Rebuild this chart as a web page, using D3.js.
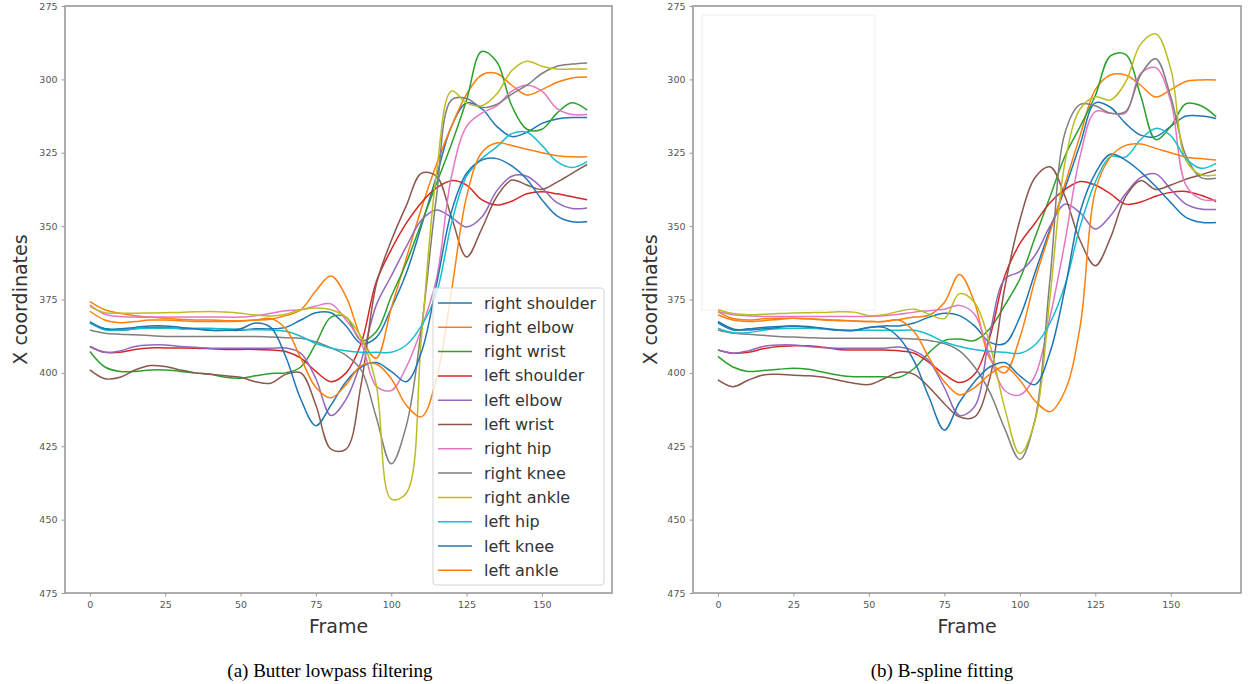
<!DOCTYPE html>
<html>
<head>
<meta charset="utf-8">
<script src="https://cdn.jsdelivr.net/npm/d3@7"></script>
<style>
  body { margin: 0; background: #fff; }
  svg { display: block; }
</style>
</head>
<body>
<div id="chart"></div>
<script>
// frames sampled every 5
const frames = [0,5,10,15,20,25,30,35,40,45,50,55,60,65,70,75,80,85,90,95,100,105,110,115,120,125,130,135,140,145,150,155,160,165];

const jointNames = ["right shoulder","right elbow","right wrist","left shoulder","left elbow","left wrist",
                    "right hip","right knee","right ankle","left hip","left knee","left ankle"];
const jointColors = ["#1f77b4","#ff7f0e","#2ca02c","#d62728","#9467bd","#8c564b",
                     "#e377c2","#7f7f7f","#bcbd22","#17becf","#1f77b4","#ff7f0e"];

const xTicks = [0,25,50,75,100,125,150];
const yTicks = [275,300,325,350,375,400,425,450,475];

// (a) Butter lowpass filtering
const aRShoulder = [383,385,385.5,385,384.5,384.5,385,385,385.5,385.5,385.5,385,385,384.5,382,379.5,379.5,384,390,388,378,366,350,333,316,308,310,316,319.5,318,315,313.5,313,313];
const aRElbow = [375.7,378.5,379.7,380.5,381,381.4,381.7,382,382,382.2,382.2,382,381.7,380.5,378.5,372,367,374,388,395,378,361,344,329,316,305,298.5,298,302,305.3,303.5,301,299.5,299.2];
const aRWrist = [392.7,398,399.5,399.5,399,399,399.5,400,400.5,401.5,401.8,401,400.2,400,398,390,381,381,389,386,374,362.5,349,335.5,322,307,290.5,294,309,317,317,311.5,308,310.5];
const aLShoulder = [391,393,393,392,391.5,391.5,391.5,391.6,391.8,392,392,392,392.2,392.7,395,399.5,403,400,390,369,358,349,342,337,334.5,336,341,342.8,341.5,339,338.3,339,340,341];
const aLElbow = [391,393,392.5,391,390.5,390.5,391,391.3,391.6,391.6,391.6,391.6,391.6,391.5,393.3,402,414.5,409,396,377,367,357,348,344.5,347,350.3,347,338,333,333,337,342,344,343.8];
const aLWrist = [399,402,401.5,399,397.5,397.8,399,400,400.5,401,401.5,403,403.5,400.5,400,411,426,426,404,370,355,343,332,333,347,360.5,351,340,334.3,336,337.5,335,332,329];
const aRHip = [376.8,380,380.8,381,381,381,381,381,381,381,381,380.5,379.7,378.8,378.5,377.2,376.5,382,389.5,404.5,406,398,385,368,333,316,311.5,309,304,302,304,310,312,312];
const aRKnee = [385.4,386.5,386.8,387,387.3,387.6,387.6,387.6,387.6,387.6,387.6,387.6,387.8,388,388.2,389.5,391.5,394,399,415,431,418,385,340,307,306.5,309.5,308.5,305,302,298,295.5,294.8,294.4];
const aRAnkle = [377.4,379.5,379.7,379.7,379.6,379.5,379.4,379.2,379.1,379.3,379.7,380.3,380.6,380,378.5,377.9,378.5,381,388,404,443,441,388,332,304,308,309,305,297,293.8,295.5,296.5,296.5,296.5];
const aLHip = [383,385.4,385.4,385,384.8,384.8,384.8,384.8,384.8,385,385.2,385.3,385.4,385.8,387.5,390,391.5,392.5,393,393,393,390.5,384,373,349,333,327,323,318.5,318,322.5,328,330,328];
const aLKnee = [382.5,385,385,384.5,384,384,384.5,385,385.5,385.5,385,383,384.5,394.5,409,418,411,403,398,396.5,399.5,403,393,370,345,332,327.5,327,329.5,334,341,346.5,348.5,348.5];
const aLAnkle = [379,382,382.9,382.5,382,382,382.2,382.5,382.5,382.5,382.4,382,381.5,385,395,405,408.5,404,397.5,397,402,411,415,402,372,340,325,321.7,322.5,323.8,325,326,326.4,326.4];

// (b) B-spline fitting
const bRShoulder = [383,385.4,385,384.5,384.2,384,384.5,385,385.5,385.5,384.5,384,384,383,381,379.7,380.5,384,389.5,390,381,366,351,337,322,308,309.5,315,319,319.5,316,312.5,312.5,313.3];
const bRElbow = [379.1,381.5,382,381.6,381.4,381.4,381.6,381.8,382,382.3,382.5,382.5,381.8,381,380.3,376,366.5,376,395,400,388,368.4,352,335.5,319,303.5,298.5,298.5,302,306,303.5,300.7,300.2,300.2];
const bRWrist = [394.4,398,399.5,399.2,398.8,398.4,398.8,399.8,400.8,401.3,401.3,401.3,401.5,398.5,393,389,388.5,389,385,377,368,354,340,326,316,305.5,292,291.5,305.5,320.5,316,308.3,309,312.7];
const bLShoulder = [392.2,393.3,393,391.8,391,390.8,390.8,391.3,392,392.2,392.2,392.2,392.5,393.3,396.5,400.5,403.3,400.5,388,367,356,349,342,337.5,334.8,336,339,342.5,341.8,339.8,338.5,338.2,339.5,341.6];
const bLElbow = [392.2,393.3,392.5,391,390.5,390.5,391,391.4,391.6,391.6,391.6,391.6,391.2,392.5,396,405,414.5,411.5,387,368,365.5,360,350,342.5,345.5,351,346.5,339,333.5,332.2,337.5,342.5,344.2,344.3];
const bLWrist = [402.4,404.7,402.5,400.7,400.5,400.8,401,401.5,402.5,403.5,404,402,399.8,400.5,405,410.5,415,415,402,371,348,333.5,329.8,340,355,363.5,354,340,334.5,337.5,336,334,332.5,330.9];
const bRHip = [379.1,380.2,380.5,380.8,380.8,380.8,380.8,380.8,380.8,380.8,380.8,380.5,380,379.3,378.8,378.3,377,380,394,406,407.5,401,381,355,326,311,311.5,311.5,298,296,307.5,336,340.8,341.1];
const bRKnee = [385.4,386.5,386.8,387.2,387.6,387.8,388,388.2,388.2,388.2,388.2,388.2,388.3,388.5,389,390,392.5,398,406.5,419,429.5,416,368,318,308.5,309,311.5,311,298.5,293,306,326,333.5,333.7];
const bRAnkle = [378.5,379.8,380.2,380,379.8,379.6,379.5,379.4,379.2,379.3,380.5,380.2,379,378.3,380,381.5,373,376,390,412,427.5,416.5,374,328,310,306,307,301,288,284.5,296.5,327.5,332.5,332.6];
const bLHip = [384.8,386.3,386.3,385.5,385,384.8,384.8,385,385.3,385.5,385.5,385.5,385.5,385.5,387,389.5,391,392,392.7,393,393.3,390.5,383,370,350,335,326.3,326.5,320.5,316.7,319.2,327,330.3,328.6];
const bLKnee = [382.5,385,385.4,385,384.5,384,384.2,384.8,385.4,385.6,384.5,384.5,388,396,408.5,419.5,410,403,398,396.5,401,404,393,371,345,332,325.5,327.5,331.5,336.5,342,347,348.7,348.8];
const bLAnkle = [380.2,382,382.5,382.2,381.8,381.4,381.6,382,382.2,382.3,382.5,382.5,382,386,395,403,407.5,405,400.5,397.8,402.5,409.5,413.2,406,384,338,326.5,322.5,322,323.5,325,326.5,327,327.5];

const butterSeries = [aRShoulder,aRElbow,aRWrist,aLShoulder,aLElbow,aLWrist,aRHip,aRKnee,aRAnkle,aLHip,aLKnee,aLAnkle];
const splineSeries = [bRShoulder,bRElbow,bRWrist,bLShoulder,bLElbow,bLWrist,bRHip,bRKnee,bRAnkle,bLHip,bLKnee,bLAnkle];

const width = 1248, height = 684;

const svg = d3.select("#chart")
  .append("svg")
  .attr("width", width)
  .attr("height", height);

const panels = [
  { left: 65, right: 612, top: 6, bottom: 593, series: butterSeries, caption: "(a) Butter lowpass filtering", capX: 330, labelX: 27, legend: true },
  { left: 693, right: 1241, top: 6, bottom: 593, series: splineSeries, caption: "(b) B-spline fitting", capX: 942, labelX: 657, legend: false }
];

panels.forEach(p => {
  const x = d3.scaleLinear().domain([-8.25, 173.25]).range([p.left, p.right]);
  const y = d3.scaleLinear().domain([275, 475]).range([p.top, p.bottom]);

  const g = svg.append("g");

  // faint leftover legend frame on the spline panel
  if (!p.legend) {
    g.append("rect")
      .attr("x", 702).attr("y", 15)
      .attr("width", 173).attr("height", 295)
      .attr("fill", "none")
      .attr("stroke", "#eeeeee")
      .attr("stroke-width", 1);
  }

  const line = d3.line()
    .x((d, i) => x(frames[i]))
    .y(d => y(d))
    .curve(d3.curveCatmullRom.alpha(0.5));

  p.series.forEach((vals, k) => {
    g.append("path")
      .datum(vals)
      .attr("d", line)
      .attr("fill", "none")
      .attr("stroke", jointColors[k])
      .attr("stroke-width", 1.5);
  });

  // spines
  g.append("rect")
    .attr("x", p.left).attr("y", p.top)
    .attr("width", p.right - p.left).attr("height", p.bottom - p.top)
    .attr("fill", "none")
    .attr("stroke", "#9a9a9a")
    .attr("stroke-width", 1.6);

  // x axis
  const xAxis = g.append("g")
    .attr("transform", `translate(0,${p.bottom})`)
    .call(d3.axisBottom(x).tickValues(xTicks).tickSize(3.5).tickPadding(5));
  xAxis.select(".domain").remove();
  xAxis.selectAll("line").attr("stroke", "#9a9a9a");
  xAxis.selectAll("text").style("font-family", "DejaVu Sans").style("font-size", "9.5px").attr("fill", "#555");

  // y axis
  const yAxis = g.append("g")
    .attr("transform", `translate(${p.left},0)`)
    .call(d3.axisLeft(y).tickValues(yTicks).tickSize(3.5).tickPadding(4));
  yAxis.select(".domain").remove();
  yAxis.selectAll("line").attr("stroke", "#9a9a9a");
  yAxis.selectAll("text").style("font-family", "DejaVu Sans").style("font-size", "9.5px").attr("fill", "#555");

  // axis titles
  g.append("text")
    .attr("x", (p.left + p.right) / 2)
    .attr("y", 633)
    .attr("text-anchor", "middle")
    .style("font-family", "DejaVu Sans")
    .style("font-size", "19px")
    .attr("fill", "#333")
    .text("Frame");

  g.append("text")
    .attr("transform", `translate(${p.labelX},${(p.top + p.bottom) / 2}) rotate(-90)`)
    .attr("text-anchor", "middle")
    .style("font-family", "DejaVu Sans")
    .style("font-size", "19px")
    .attr("fill", "#333")
    .text("X coordinates");

  // caption
  svg.append("text")
    .attr("x", p.capX)
    .attr("y", 677)
    .attr("text-anchor", "middle")
    .style("font-family", "Liberation Serif")
    .style("font-size", "19px")
    .attr("fill", "#000")
    .text(p.caption);

  if (p.legend) {
    const lg = g.append("g");
    lg.append("rect")
      .attr("x", 433).attr("y", 288)
      .attr("width", 171).attr("height", 297)
      .attr("rx", 3)
      .attr("fill", "white").attr("fill-opacity", 0.8)
      .attr("stroke", "#d5d5d5");
    jointNames.forEach((name, k) => {
      const cy = 303 + k * 24.3;
      lg.append("line")
        .attr("x1", 438).attr("x2", 472)
        .attr("y1", cy).attr("y2", cy)
        .attr("stroke", jointColors[k])
        .attr("stroke-width", 1.5);
      lg.append("text")
        .attr("x", 484).attr("y", cy + 5.5)
        .style("font-family", "DejaVu Sans")
        .style("font-size", "16px")
        .attr("fill", "#333")
        .text(name);
    });
  }
});
</script>
</body>
</html>
